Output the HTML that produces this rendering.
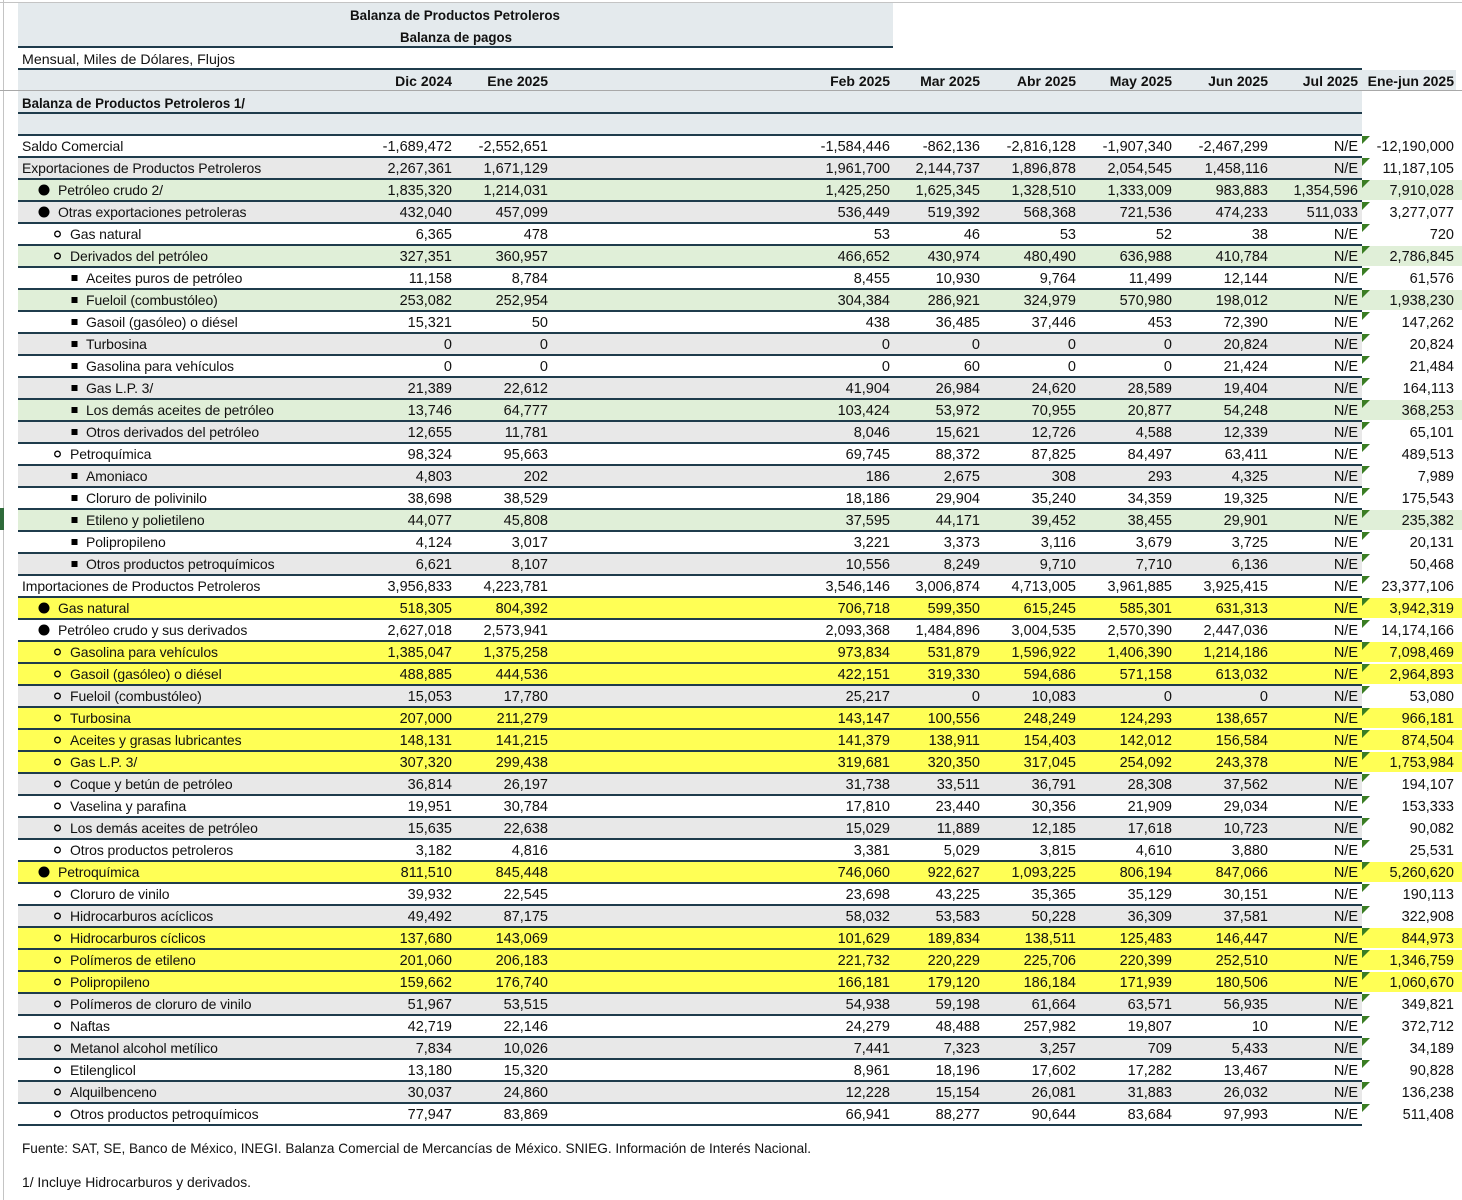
<!DOCTYPE html>
<html><head><meta charset="utf-8"><style>
html,body{margin:0;padding:0;background:#fff;}
svg{display:block;}
text{font-family:"Liberation Sans",sans-serif;fill:#111;}
.r text{font-size:14.5px;text-anchor:end;}
.r text.l{font-size:14px;text-anchor:start;letter-spacing:-0.1px;}
.ln{fill:#1f3c4c;}
.tri{fill:#3a7d23;}
.b1{fill:#000;}
.b2{fill:none;stroke:#000;stroke-width:1.3;}
.b3{fill:#000;}
.h text{font-weight:bold;font-size:14px;text-anchor:end;}
</style></head><body>
<svg width="1462" height="1200" viewBox="0 0 1462 1200" xmlns="http://www.w3.org/2000/svg">
<rect x="0" y="0" width="1462" height="1200" fill="#fff"/>
<rect x="0" y="2" width="1462" height="1" fill="#c4c4c4"/>
<rect x="3" y="0" width="1" height="1200" fill="#c4c4c4"/>
<rect x="0" y="508" width="4" height="22" fill="#2e6b3a"/>
<rect x="18" y="3" width="875" height="43" fill="#e4eaed"/>
<text x="455" y="20" text-anchor="middle" font-weight="bold" font-size="13.5" textLength="210" lengthAdjust="spacingAndGlyphs">Balanza de Productos Petroleros</text>
<text x="456" y="42" text-anchor="middle" font-weight="bold" font-size="13.5" textLength="112" lengthAdjust="spacingAndGlyphs">Balanza de pagos</text>
<rect x="18" y="46" width="875" height="2" class="ln"/>
<text x="22" y="64" font-size="14" textLength="213" lengthAdjust="spacingAndGlyphs">Mensual, Miles de Dólares, Flujos</text>
<rect x="18" y="68" width="1344" height="2" class="ln"/>
<rect x="18" y="70" width="1438" height="20" fill="#e4eaed"/>
<g class="h">
<text x="452" y="86">Dic 2024</text><text x="548" y="86">Ene 2025</text><text x="890" y="86">Feb 2025</text><text x="980" y="86">Mar 2025</text><text x="1076" y="86">Abr 2025</text><text x="1172" y="86">May 2025</text><text x="1268" y="86">Jun 2025</text><text x="1358" y="86">Jul 2025</text><text x="1454" y="86">Ene-jun 2025</text>
</g>
<rect x="0" y="90" width="1462" height="1" fill="#a8a8a8"/>
<rect x="18" y="91" width="1344" height="21" fill="#e4eaed"/>
<text x="22" y="108" font-weight="bold" font-size="13.5" textLength="223" lengthAdjust="spacingAndGlyphs">Balanza de Productos Petroleros 1/</text>
<rect x="18" y="112" width="1344" height="2" class="ln"/>
<rect x="18" y="114" width="1344" height="20" fill="#e4eaed"/>

<g class="r" transform="translate(0,134)"><rect x="18" y="0" width="1344" height="2" class="ln"/><path class="tri" d="M1362 2h8l-8 8z"/>
<text class="l" x="22" y="17">Saldo Comercial</text>
<text x="452" y="17">-1,689,472</text><text x="548" y="17">-2,552,651</text><text x="890" y="17">-1,584,446</text><text x="980" y="17">-862,136</text><text x="1076" y="17">-2,816,128</text><text x="1172" y="17">-1,907,340</text><text x="1268" y="17">-2,467,299</text><text x="1358" y="17">N/E</text><text x="1454" y="17">-12,190,000</text></g>

<g class="r" transform="translate(0,156)"><rect x="18" y="2" width="1344" height="20" fill="#e8e8e8"/><rect x="18" y="0" width="1344" height="2" class="ln"/><path class="tri" d="M1362 2h8l-8 8z"/>
<text class="l" x="22" y="17">Exportaciones de Productos Petroleros</text>
<text x="452" y="17">2,267,361</text><text x="548" y="17">1,671,129</text><text x="890" y="17">1,961,700</text><text x="980" y="17">2,144,737</text><text x="1076" y="17">1,896,878</text><text x="1172" y="17">2,054,545</text><text x="1268" y="17">1,458,116</text><text x="1358" y="17">N/E</text><text x="1454" y="17">11,187,105</text></g>

<g class="r" transform="translate(0,178)"><rect x="18" y="2" width="1444" height="20" fill="#e0efd8"/><rect x="18" y="0" width="1344" height="2" class="ln"/><path class="tri" d="M1362 2h8l-8 8z"/>
<circle class="b1" cx="44" cy="12" r="5.5"/><text class="l" x="58" y="17">Petróleo crudo 2/</text>
<text x="452" y="17">1,835,320</text><text x="548" y="17">1,214,031</text><text x="890" y="17">1,425,250</text><text x="980" y="17">1,625,345</text><text x="1076" y="17">1,328,510</text><text x="1172" y="17">1,333,009</text><text x="1268" y="17">983,883</text><text x="1358" y="17">1,354,596</text><text x="1454" y="17">7,910,028</text></g>

<g class="r" transform="translate(0,200)"><rect x="18" y="2" width="1344" height="20" fill="#e8e8e8"/><rect x="18" y="0" width="1344" height="2" class="ln"/><path class="tri" d="M1362 2h8l-8 8z"/>
<circle class="b1" cx="44" cy="12" r="5.5"/><text class="l" x="58" y="17">Otras exportaciones petroleras</text>
<text x="452" y="17">432,040</text><text x="548" y="17">457,099</text><text x="890" y="17">536,449</text><text x="980" y="17">519,392</text><text x="1076" y="17">568,368</text><text x="1172" y="17">721,536</text><text x="1268" y="17">474,233</text><text x="1358" y="17">511,033</text><text x="1454" y="17">3,277,077</text></g>

<g class="r" transform="translate(0,222)"><rect x="18" y="0" width="1344" height="2" class="ln"/><path class="tri" d="M1362 2h8l-8 8z"/>
<circle class="b2" cx="57.5" cy="12" r="2.8"/><text class="l" x="70" y="17">Gas natural</text>
<text x="452" y="17">6,365</text><text x="548" y="17">478</text><text x="890" y="17">53</text><text x="980" y="17">46</text><text x="1076" y="17">53</text><text x="1172" y="17">52</text><text x="1268" y="17">38</text><text x="1358" y="17">N/E</text><text x="1454" y="17">720</text></g>

<g class="r" transform="translate(0,244)"><rect x="18" y="2" width="1444" height="20" fill="#e0efd8"/><rect x="18" y="0" width="1344" height="2" class="ln"/><path class="tri" d="M1362 2h8l-8 8z"/>
<circle class="b2" cx="57.5" cy="12" r="2.8"/><text class="l" x="70" y="17">Derivados del petróleo</text>
<text x="452" y="17">327,351</text><text x="548" y="17">360,957</text><text x="890" y="17">466,652</text><text x="980" y="17">430,974</text><text x="1076" y="17">480,490</text><text x="1172" y="17">636,988</text><text x="1268" y="17">410,784</text><text x="1358" y="17">N/E</text><text x="1454" y="17">2,786,845</text></g>

<g class="r" transform="translate(0,266)"><rect x="18" y="0" width="1344" height="2" class="ln"/><path class="tri" d="M1362 2h8l-8 8z"/>
<rect class="b3" x="71.5" y="9" width="6" height="6"/><text class="l" x="86" y="17">Aceites puros de petróleo</text>
<text x="452" y="17">11,158</text><text x="548" y="17">8,784</text><text x="890" y="17">8,455</text><text x="980" y="17">10,930</text><text x="1076" y="17">9,764</text><text x="1172" y="17">11,499</text><text x="1268" y="17">12,144</text><text x="1358" y="17">N/E</text><text x="1454" y="17">61,576</text></g>

<g class="r" transform="translate(0,288)"><rect x="18" y="2" width="1444" height="20" fill="#e0efd8"/><rect x="18" y="0" width="1344" height="2" class="ln"/><path class="tri" d="M1362 2h8l-8 8z"/>
<rect class="b3" x="71.5" y="9" width="6" height="6"/><text class="l" x="86" y="17">Fueloil (combustóleo)</text>
<text x="452" y="17">253,082</text><text x="548" y="17">252,954</text><text x="890" y="17">304,384</text><text x="980" y="17">286,921</text><text x="1076" y="17">324,979</text><text x="1172" y="17">570,980</text><text x="1268" y="17">198,012</text><text x="1358" y="17">N/E</text><text x="1454" y="17">1,938,230</text></g>

<g class="r" transform="translate(0,310)"><rect x="18" y="0" width="1344" height="2" class="ln"/><path class="tri" d="M1362 2h8l-8 8z"/>
<rect class="b3" x="71.5" y="9" width="6" height="6"/><text class="l" x="86" y="17">Gasoil (gasóleo) o diésel</text>
<text x="452" y="17">15,321</text><text x="548" y="17">50</text><text x="890" y="17">438</text><text x="980" y="17">36,485</text><text x="1076" y="17">37,446</text><text x="1172" y="17">453</text><text x="1268" y="17">72,390</text><text x="1358" y="17">N/E</text><text x="1454" y="17">147,262</text></g>

<g class="r" transform="translate(0,332)"><rect x="18" y="2" width="1344" height="20" fill="#e8e8e8"/><rect x="18" y="0" width="1344" height="2" class="ln"/><path class="tri" d="M1362 2h8l-8 8z"/>
<rect class="b3" x="71.5" y="9" width="6" height="6"/><text class="l" x="86" y="17">Turbosina</text>
<text x="452" y="17">0</text><text x="548" y="17">0</text><text x="890" y="17">0</text><text x="980" y="17">0</text><text x="1076" y="17">0</text><text x="1172" y="17">0</text><text x="1268" y="17">20,824</text><text x="1358" y="17">N/E</text><text x="1454" y="17">20,824</text></g>

<g class="r" transform="translate(0,354)"><rect x="18" y="0" width="1344" height="2" class="ln"/><path class="tri" d="M1362 2h8l-8 8z"/>
<rect class="b3" x="71.5" y="9" width="6" height="6"/><text class="l" x="86" y="17">Gasolina para vehículos</text>
<text x="452" y="17">0</text><text x="548" y="17">0</text><text x="890" y="17">0</text><text x="980" y="17">60</text><text x="1076" y="17">0</text><text x="1172" y="17">0</text><text x="1268" y="17">21,424</text><text x="1358" y="17">N/E</text><text x="1454" y="17">21,484</text></g>

<g class="r" transform="translate(0,376)"><rect x="18" y="2" width="1344" height="20" fill="#e8e8e8"/><rect x="18" y="0" width="1344" height="2" class="ln"/><path class="tri" d="M1362 2h8l-8 8z"/>
<rect class="b3" x="71.5" y="9" width="6" height="6"/><text class="l" x="86" y="17">Gas L.P. 3/</text>
<text x="452" y="17">21,389</text><text x="548" y="17">22,612</text><text x="890" y="17">41,904</text><text x="980" y="17">26,984</text><text x="1076" y="17">24,620</text><text x="1172" y="17">28,589</text><text x="1268" y="17">19,404</text><text x="1358" y="17">N/E</text><text x="1454" y="17">164,113</text></g>

<g class="r" transform="translate(0,398)"><rect x="18" y="2" width="1444" height="20" fill="#e0efd8"/><rect x="18" y="0" width="1344" height="2" class="ln"/><path class="tri" d="M1362 2h8l-8 8z"/>
<rect class="b3" x="71.5" y="9" width="6" height="6"/><text class="l" x="86" y="17">Los demás aceites de petróleo</text>
<text x="452" y="17">13,746</text><text x="548" y="17">64,777</text><text x="890" y="17">103,424</text><text x="980" y="17">53,972</text><text x="1076" y="17">70,955</text><text x="1172" y="17">20,877</text><text x="1268" y="17">54,248</text><text x="1358" y="17">N/E</text><text x="1454" y="17">368,253</text></g>

<g class="r" transform="translate(0,420)"><rect x="18" y="2" width="1344" height="20" fill="#e8e8e8"/><rect x="18" y="0" width="1344" height="2" class="ln"/><path class="tri" d="M1362 2h8l-8 8z"/>
<rect class="b3" x="71.5" y="9" width="6" height="6"/><text class="l" x="86" y="17">Otros derivados del petróleo</text>
<text x="452" y="17">12,655</text><text x="548" y="17">11,781</text><text x="890" y="17">8,046</text><text x="980" y="17">15,621</text><text x="1076" y="17">12,726</text><text x="1172" y="17">4,588</text><text x="1268" y="17">12,339</text><text x="1358" y="17">N/E</text><text x="1454" y="17">65,101</text></g>

<g class="r" transform="translate(0,442)"><rect x="18" y="0" width="1344" height="2" class="ln"/><path class="tri" d="M1362 2h8l-8 8z"/>
<circle class="b2" cx="57.5" cy="12" r="2.8"/><text class="l" x="70" y="17">Petroquímica</text>
<text x="452" y="17">98,324</text><text x="548" y="17">95,663</text><text x="890" y="17">69,745</text><text x="980" y="17">88,372</text><text x="1076" y="17">87,825</text><text x="1172" y="17">84,497</text><text x="1268" y="17">63,411</text><text x="1358" y="17">N/E</text><text x="1454" y="17">489,513</text></g>

<g class="r" transform="translate(0,464)"><rect x="18" y="2" width="1344" height="20" fill="#e8e8e8"/><rect x="18" y="0" width="1344" height="2" class="ln"/><path class="tri" d="M1362 2h8l-8 8z"/>
<rect class="b3" x="71.5" y="9" width="6" height="6"/><text class="l" x="86" y="17">Amoniaco</text>
<text x="452" y="17">4,803</text><text x="548" y="17">202</text><text x="890" y="17">186</text><text x="980" y="17">2,675</text><text x="1076" y="17">308</text><text x="1172" y="17">293</text><text x="1268" y="17">4,325</text><text x="1358" y="17">N/E</text><text x="1454" y="17">7,989</text></g>

<g class="r" transform="translate(0,486)"><rect x="18" y="0" width="1344" height="2" class="ln"/><path class="tri" d="M1362 2h8l-8 8z"/>
<rect class="b3" x="71.5" y="9" width="6" height="6"/><text class="l" x="86" y="17">Cloruro de polivinilo</text>
<text x="452" y="17">38,698</text><text x="548" y="17">38,529</text><text x="890" y="17">18,186</text><text x="980" y="17">29,904</text><text x="1076" y="17">35,240</text><text x="1172" y="17">34,359</text><text x="1268" y="17">19,325</text><text x="1358" y="17">N/E</text><text x="1454" y="17">175,543</text></g>

<g class="r" transform="translate(0,508)"><rect x="18" y="2" width="1444" height="20" fill="#e0efd8"/><rect x="18" y="0" width="1344" height="2" class="ln"/><path class="tri" d="M1362 2h8l-8 8z"/>
<rect class="b3" x="71.5" y="9" width="6" height="6"/><text class="l" x="86" y="17">Etileno y polietileno</text>
<text x="452" y="17">44,077</text><text x="548" y="17">45,808</text><text x="890" y="17">37,595</text><text x="980" y="17">44,171</text><text x="1076" y="17">39,452</text><text x="1172" y="17">38,455</text><text x="1268" y="17">29,901</text><text x="1358" y="17">N/E</text><text x="1454" y="17">235,382</text></g>

<g class="r" transform="translate(0,530)"><rect x="18" y="0" width="1344" height="2" class="ln"/><path class="tri" d="M1362 2h8l-8 8z"/>
<rect class="b3" x="71.5" y="9" width="6" height="6"/><text class="l" x="86" y="17">Polipropileno</text>
<text x="452" y="17">4,124</text><text x="548" y="17">3,017</text><text x="890" y="17">3,221</text><text x="980" y="17">3,373</text><text x="1076" y="17">3,116</text><text x="1172" y="17">3,679</text><text x="1268" y="17">3,725</text><text x="1358" y="17">N/E</text><text x="1454" y="17">20,131</text></g>

<g class="r" transform="translate(0,552)"><rect x="18" y="2" width="1344" height="20" fill="#e8e8e8"/><rect x="18" y="0" width="1344" height="2" class="ln"/><path class="tri" d="M1362 2h8l-8 8z"/>
<rect class="b3" x="71.5" y="9" width="6" height="6"/><text class="l" x="86" y="17">Otros productos petroquímicos</text>
<text x="452" y="17">6,621</text><text x="548" y="17">8,107</text><text x="890" y="17">10,556</text><text x="980" y="17">8,249</text><text x="1076" y="17">9,710</text><text x="1172" y="17">7,710</text><text x="1268" y="17">6,136</text><text x="1358" y="17">N/E</text><text x="1454" y="17">50,468</text></g>

<g class="r" transform="translate(0,574)"><rect x="18" y="0" width="1344" height="2" class="ln"/><path class="tri" d="M1362 2h8l-8 8z"/>
<text class="l" x="22" y="17">Importaciones de Productos Petroleros</text>
<text x="452" y="17">3,956,833</text><text x="548" y="17">4,223,781</text><text x="890" y="17">3,546,146</text><text x="980" y="17">3,006,874</text><text x="1076" y="17">4,713,005</text><text x="1172" y="17">3,961,885</text><text x="1268" y="17">3,925,415</text><text x="1358" y="17">N/E</text><text x="1454" y="17">23,377,106</text></g>

<g class="r" transform="translate(0,596)"><rect x="18" y="2" width="1444" height="20" fill="#ffff55"/><rect x="18" y="0" width="1344" height="2" class="ln"/><path class="tri" d="M1362 2h8l-8 8z"/>
<circle class="b1" cx="44" cy="12" r="5.5"/><text class="l" x="58" y="17">Gas natural</text>
<text x="452" y="17">518,305</text><text x="548" y="17">804,392</text><text x="890" y="17">706,718</text><text x="980" y="17">599,350</text><text x="1076" y="17">615,245</text><text x="1172" y="17">585,301</text><text x="1268" y="17">631,313</text><text x="1358" y="17">N/E</text><text x="1454" y="17">3,942,319</text></g>

<g class="r" transform="translate(0,618)"><rect x="18" y="0" width="1344" height="2" class="ln"/><path class="tri" d="M1362 2h8l-8 8z"/>
<circle class="b1" cx="44" cy="12" r="5.5"/><text class="l" x="58" y="17">Petróleo crudo y sus derivados</text>
<text x="452" y="17">2,627,018</text><text x="548" y="17">2,573,941</text><text x="890" y="17">2,093,368</text><text x="980" y="17">1,484,896</text><text x="1076" y="17">3,004,535</text><text x="1172" y="17">2,570,390</text><text x="1268" y="17">2,447,036</text><text x="1358" y="17">N/E</text><text x="1454" y="17">14,174,166</text></g>

<g class="r" transform="translate(0,640)"><rect x="18" y="2" width="1444" height="20" fill="#ffff55"/><rect x="18" y="0" width="1344" height="2" class="ln"/><path class="tri" d="M1362 2h8l-8 8z"/>
<circle class="b2" cx="57.5" cy="12" r="2.8"/><text class="l" x="70" y="17">Gasolina para vehículos</text>
<text x="452" y="17">1,385,047</text><text x="548" y="17">1,375,258</text><text x="890" y="17">973,834</text><text x="980" y="17">531,879</text><text x="1076" y="17">1,596,922</text><text x="1172" y="17">1,406,390</text><text x="1268" y="17">1,214,186</text><text x="1358" y="17">N/E</text><text x="1454" y="17">7,098,469</text></g>

<g class="r" transform="translate(0,662)"><rect x="18" y="2" width="1444" height="20" fill="#ffff55"/><rect x="18" y="0" width="1344" height="2" class="ln"/><path class="tri" d="M1362 2h8l-8 8z"/>
<circle class="b2" cx="57.5" cy="12" r="2.8"/><text class="l" x="70" y="17">Gasoil (gasóleo) o diésel</text>
<text x="452" y="17">488,885</text><text x="548" y="17">444,536</text><text x="890" y="17">422,151</text><text x="980" y="17">319,330</text><text x="1076" y="17">594,686</text><text x="1172" y="17">571,158</text><text x="1268" y="17">613,032</text><text x="1358" y="17">N/E</text><text x="1454" y="17">2,964,893</text></g>

<g class="r" transform="translate(0,684)"><rect x="18" y="2" width="1344" height="20" fill="#e8e8e8"/><rect x="18" y="0" width="1344" height="2" class="ln"/><path class="tri" d="M1362 2h8l-8 8z"/>
<circle class="b2" cx="57.5" cy="12" r="2.8"/><text class="l" x="70" y="17">Fueloil (combustóleo)</text>
<text x="452" y="17">15,053</text><text x="548" y="17">17,780</text><text x="890" y="17">25,217</text><text x="980" y="17">0</text><text x="1076" y="17">10,083</text><text x="1172" y="17">0</text><text x="1268" y="17">0</text><text x="1358" y="17">N/E</text><text x="1454" y="17">53,080</text></g>

<g class="r" transform="translate(0,706)"><rect x="18" y="2" width="1444" height="20" fill="#ffff55"/><rect x="18" y="0" width="1344" height="2" class="ln"/><path class="tri" d="M1362 2h8l-8 8z"/>
<circle class="b2" cx="57.5" cy="12" r="2.8"/><text class="l" x="70" y="17">Turbosina</text>
<text x="452" y="17">207,000</text><text x="548" y="17">211,279</text><text x="890" y="17">143,147</text><text x="980" y="17">100,556</text><text x="1076" y="17">248,249</text><text x="1172" y="17">124,293</text><text x="1268" y="17">138,657</text><text x="1358" y="17">N/E</text><text x="1454" y="17">966,181</text></g>

<g class="r" transform="translate(0,728)"><rect x="18" y="2" width="1444" height="20" fill="#ffff55"/><rect x="18" y="0" width="1344" height="2" class="ln"/><path class="tri" d="M1362 2h8l-8 8z"/>
<circle class="b2" cx="57.5" cy="12" r="2.8"/><text class="l" x="70" y="17">Aceites y grasas lubricantes</text>
<text x="452" y="17">148,131</text><text x="548" y="17">141,215</text><text x="890" y="17">141,379</text><text x="980" y="17">138,911</text><text x="1076" y="17">154,403</text><text x="1172" y="17">142,012</text><text x="1268" y="17">156,584</text><text x="1358" y="17">N/E</text><text x="1454" y="17">874,504</text></g>

<g class="r" transform="translate(0,750)"><rect x="18" y="2" width="1444" height="20" fill="#ffff55"/><rect x="18" y="0" width="1344" height="2" class="ln"/><path class="tri" d="M1362 2h8l-8 8z"/>
<circle class="b2" cx="57.5" cy="12" r="2.8"/><text class="l" x="70" y="17">Gas L.P. 3/</text>
<text x="452" y="17">307,320</text><text x="548" y="17">299,438</text><text x="890" y="17">319,681</text><text x="980" y="17">320,350</text><text x="1076" y="17">317,045</text><text x="1172" y="17">254,092</text><text x="1268" y="17">243,378</text><text x="1358" y="17">N/E</text><text x="1454" y="17">1,753,984</text></g>

<g class="r" transform="translate(0,772)"><rect x="18" y="2" width="1344" height="20" fill="#e8e8e8"/><rect x="18" y="0" width="1344" height="2" class="ln"/><path class="tri" d="M1362 2h8l-8 8z"/>
<circle class="b2" cx="57.5" cy="12" r="2.8"/><text class="l" x="70" y="17">Coque y betún de petróleo</text>
<text x="452" y="17">36,814</text><text x="548" y="17">26,197</text><text x="890" y="17">31,738</text><text x="980" y="17">33,511</text><text x="1076" y="17">36,791</text><text x="1172" y="17">28,308</text><text x="1268" y="17">37,562</text><text x="1358" y="17">N/E</text><text x="1454" y="17">194,107</text></g>

<g class="r" transform="translate(0,794)"><rect x="18" y="0" width="1344" height="2" class="ln"/><path class="tri" d="M1362 2h8l-8 8z"/>
<circle class="b2" cx="57.5" cy="12" r="2.8"/><text class="l" x="70" y="17">Vaselina y parafina</text>
<text x="452" y="17">19,951</text><text x="548" y="17">30,784</text><text x="890" y="17">17,810</text><text x="980" y="17">23,440</text><text x="1076" y="17">30,356</text><text x="1172" y="17">21,909</text><text x="1268" y="17">29,034</text><text x="1358" y="17">N/E</text><text x="1454" y="17">153,333</text></g>

<g class="r" transform="translate(0,816)"><rect x="18" y="2" width="1344" height="20" fill="#e8e8e8"/><rect x="18" y="0" width="1344" height="2" class="ln"/><path class="tri" d="M1362 2h8l-8 8z"/>
<circle class="b2" cx="57.5" cy="12" r="2.8"/><text class="l" x="70" y="17">Los demás aceites de petróleo</text>
<text x="452" y="17">15,635</text><text x="548" y="17">22,638</text><text x="890" y="17">15,029</text><text x="980" y="17">11,889</text><text x="1076" y="17">12,185</text><text x="1172" y="17">17,618</text><text x="1268" y="17">10,723</text><text x="1358" y="17">N/E</text><text x="1454" y="17">90,082</text></g>

<g class="r" transform="translate(0,838)"><rect x="18" y="0" width="1344" height="2" class="ln"/><path class="tri" d="M1362 2h8l-8 8z"/>
<circle class="b2" cx="57.5" cy="12" r="2.8"/><text class="l" x="70" y="17">Otros productos petroleros</text>
<text x="452" y="17">3,182</text><text x="548" y="17">4,816</text><text x="890" y="17">3,381</text><text x="980" y="17">5,029</text><text x="1076" y="17">3,815</text><text x="1172" y="17">4,610</text><text x="1268" y="17">3,880</text><text x="1358" y="17">N/E</text><text x="1454" y="17">25,531</text></g>

<g class="r" transform="translate(0,860)"><rect x="18" y="2" width="1444" height="20" fill="#ffff55"/><rect x="18" y="0" width="1344" height="2" class="ln"/><path class="tri" d="M1362 2h8l-8 8z"/>
<circle class="b1" cx="44" cy="12" r="5.5"/><text class="l" x="58" y="17">Petroquímica</text>
<text x="452" y="17">811,510</text><text x="548" y="17">845,448</text><text x="890" y="17">746,060</text><text x="980" y="17">922,627</text><text x="1076" y="17">1,093,225</text><text x="1172" y="17">806,194</text><text x="1268" y="17">847,066</text><text x="1358" y="17">N/E</text><text x="1454" y="17">5,260,620</text></g>

<g class="r" transform="translate(0,882)"><rect x="18" y="0" width="1344" height="2" class="ln"/><path class="tri" d="M1362 2h8l-8 8z"/>
<circle class="b2" cx="57.5" cy="12" r="2.8"/><text class="l" x="70" y="17">Cloruro de vinilo</text>
<text x="452" y="17">39,932</text><text x="548" y="17">22,545</text><text x="890" y="17">23,698</text><text x="980" y="17">43,225</text><text x="1076" y="17">35,365</text><text x="1172" y="17">35,129</text><text x="1268" y="17">30,151</text><text x="1358" y="17">N/E</text><text x="1454" y="17">190,113</text></g>

<g class="r" transform="translate(0,904)"><rect x="18" y="2" width="1344" height="20" fill="#e8e8e8"/><rect x="18" y="0" width="1344" height="2" class="ln"/><path class="tri" d="M1362 2h8l-8 8z"/>
<circle class="b2" cx="57.5" cy="12" r="2.8"/><text class="l" x="70" y="17">Hidrocarburos acíclicos</text>
<text x="452" y="17">49,492</text><text x="548" y="17">87,175</text><text x="890" y="17">58,032</text><text x="980" y="17">53,583</text><text x="1076" y="17">50,228</text><text x="1172" y="17">36,309</text><text x="1268" y="17">37,581</text><text x="1358" y="17">N/E</text><text x="1454" y="17">322,908</text></g>

<g class="r" transform="translate(0,926)"><rect x="18" y="2" width="1444" height="20" fill="#ffff55"/><rect x="18" y="0" width="1344" height="2" class="ln"/><path class="tri" d="M1362 2h8l-8 8z"/>
<circle class="b2" cx="57.5" cy="12" r="2.8"/><text class="l" x="70" y="17">Hidrocarburos cíclicos</text>
<text x="452" y="17">137,680</text><text x="548" y="17">143,069</text><text x="890" y="17">101,629</text><text x="980" y="17">189,834</text><text x="1076" y="17">138,511</text><text x="1172" y="17">125,483</text><text x="1268" y="17">146,447</text><text x="1358" y="17">N/E</text><text x="1454" y="17">844,973</text></g>

<g class="r" transform="translate(0,948)"><rect x="18" y="2" width="1444" height="20" fill="#ffff55"/><rect x="18" y="0" width="1344" height="2" class="ln"/><path class="tri" d="M1362 2h8l-8 8z"/>
<circle class="b2" cx="57.5" cy="12" r="2.8"/><text class="l" x="70" y="17">Polímeros de etileno</text>
<text x="452" y="17">201,060</text><text x="548" y="17">206,183</text><text x="890" y="17">221,732</text><text x="980" y="17">220,229</text><text x="1076" y="17">225,706</text><text x="1172" y="17">220,399</text><text x="1268" y="17">252,510</text><text x="1358" y="17">N/E</text><text x="1454" y="17">1,346,759</text></g>

<g class="r" transform="translate(0,970)"><rect x="18" y="2" width="1444" height="20" fill="#ffff55"/><rect x="18" y="0" width="1344" height="2" class="ln"/><path class="tri" d="M1362 2h8l-8 8z"/>
<circle class="b2" cx="57.5" cy="12" r="2.8"/><text class="l" x="70" y="17">Polipropileno</text>
<text x="452" y="17">159,662</text><text x="548" y="17">176,740</text><text x="890" y="17">166,181</text><text x="980" y="17">179,120</text><text x="1076" y="17">186,184</text><text x="1172" y="17">171,939</text><text x="1268" y="17">180,506</text><text x="1358" y="17">N/E</text><text x="1454" y="17">1,060,670</text></g>

<g class="r" transform="translate(0,992)"><rect x="18" y="2" width="1344" height="20" fill="#e8e8e8"/><rect x="18" y="0" width="1344" height="2" class="ln"/><path class="tri" d="M1362 2h8l-8 8z"/>
<circle class="b2" cx="57.5" cy="12" r="2.8"/><text class="l" x="70" y="17">Polímeros de cloruro de vinilo</text>
<text x="452" y="17">51,967</text><text x="548" y="17">53,515</text><text x="890" y="17">54,938</text><text x="980" y="17">59,198</text><text x="1076" y="17">61,664</text><text x="1172" y="17">63,571</text><text x="1268" y="17">56,935</text><text x="1358" y="17">N/E</text><text x="1454" y="17">349,821</text></g>

<g class="r" transform="translate(0,1014)"><rect x="18" y="0" width="1344" height="2" class="ln"/><path class="tri" d="M1362 2h8l-8 8z"/>
<circle class="b2" cx="57.5" cy="12" r="2.8"/><text class="l" x="70" y="17">Naftas</text>
<text x="452" y="17">42,719</text><text x="548" y="17">22,146</text><text x="890" y="17">24,279</text><text x="980" y="17">48,488</text><text x="1076" y="17">257,982</text><text x="1172" y="17">19,807</text><text x="1268" y="17">10</text><text x="1358" y="17">N/E</text><text x="1454" y="17">372,712</text></g>

<g class="r" transform="translate(0,1036)"><rect x="18" y="2" width="1344" height="20" fill="#e8e8e8"/><rect x="18" y="0" width="1344" height="2" class="ln"/><path class="tri" d="M1362 2h8l-8 8z"/>
<circle class="b2" cx="57.5" cy="12" r="2.8"/><text class="l" x="70" y="17">Metanol alcohol metílico</text>
<text x="452" y="17">7,834</text><text x="548" y="17">10,026</text><text x="890" y="17">7,441</text><text x="980" y="17">7,323</text><text x="1076" y="17">3,257</text><text x="1172" y="17">709</text><text x="1268" y="17">5,433</text><text x="1358" y="17">N/E</text><text x="1454" y="17">34,189</text></g>

<g class="r" transform="translate(0,1058)"><rect x="18" y="0" width="1344" height="2" class="ln"/><path class="tri" d="M1362 2h8l-8 8z"/>
<circle class="b2" cx="57.5" cy="12" r="2.8"/><text class="l" x="70" y="17">Etilenglicol</text>
<text x="452" y="17">13,180</text><text x="548" y="17">15,320</text><text x="890" y="17">8,961</text><text x="980" y="17">18,196</text><text x="1076" y="17">17,602</text><text x="1172" y="17">17,282</text><text x="1268" y="17">13,467</text><text x="1358" y="17">N/E</text><text x="1454" y="17">90,828</text></g>

<g class="r" transform="translate(0,1080)"><rect x="18" y="2" width="1344" height="20" fill="#e8e8e8"/><rect x="18" y="0" width="1344" height="2" class="ln"/><path class="tri" d="M1362 2h8l-8 8z"/>
<circle class="b2" cx="57.5" cy="12" r="2.8"/><text class="l" x="70" y="17">Alquilbenceno</text>
<text x="452" y="17">30,037</text><text x="548" y="17">24,860</text><text x="890" y="17">12,228</text><text x="980" y="17">15,154</text><text x="1076" y="17">26,081</text><text x="1172" y="17">31,883</text><text x="1268" y="17">26,032</text><text x="1358" y="17">N/E</text><text x="1454" y="17">136,238</text></g>

<g class="r" transform="translate(0,1102)"><rect x="18" y="0" width="1344" height="2" class="ln"/><path class="tri" d="M1362 2h8l-8 8z"/>
<circle class="b2" cx="57.5" cy="12" r="2.8"/><text class="l" x="70" y="17">Otros productos petroquímicos</text>
<text x="452" y="17">77,947</text><text x="548" y="17">83,869</text><text x="890" y="17">66,941</text><text x="980" y="17">88,277</text><text x="1076" y="17">90,644</text><text x="1172" y="17">83,684</text><text x="1268" y="17">97,993</text><text x="1358" y="17">N/E</text><text x="1454" y="17">511,408</text>
<rect x="18" y="22" width="1344" height="2" class="ln"/></g>

<text x="22" y="1153" font-size="14" textLength="789" lengthAdjust="spacingAndGlyphs">Fuente: SAT, SE, Banco de México, INEGI. Balanza Comercial de Mercancías de México. SNIEG. Información de Interés Nacional.</text>
<text x="22" y="1187" font-size="14" textLength="229" lengthAdjust="spacingAndGlyphs">1/ Incluye Hidrocarburos y derivados.</text>
</svg>
</body></html>
